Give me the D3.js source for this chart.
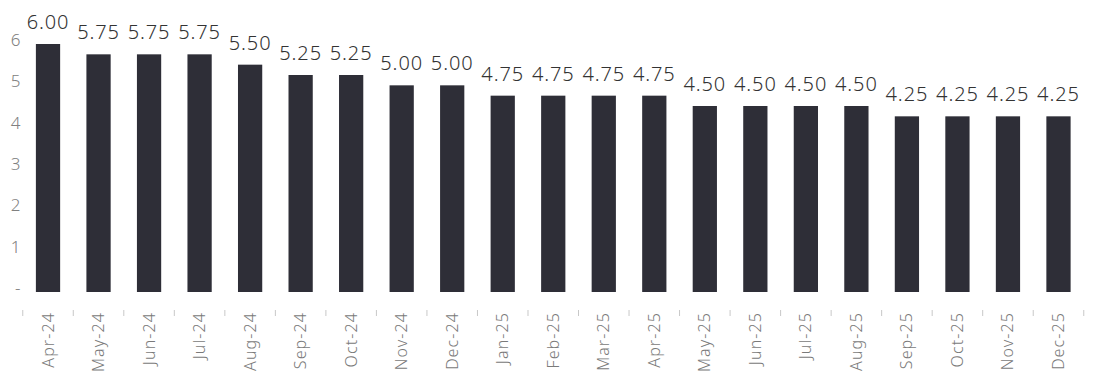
<!DOCTYPE html>
<html>
<head>
<meta charset="utf-8">
<script src="https://cdn.jsdelivr.net/npm/d3@7"></script>
<style>
  html, body { margin: 0; padding: 0; background: #fff; }
  svg { display: block; }
</style>
</head>
<body>
<svg id="chart" width="1098" height="374"></svg>
<script>
// Monthly policy rate (%)
const months = ["Apr-24","May-24","Jun-24","Jul-24","Aug-24","Sep-24","Oct-24","Nov-24","Dec-24",
                "Jan-25","Feb-25","Mar-25","Apr-25","May-25","Jun-25","Jul-25","Aug-25",
                "Sep-25","Oct-25","Nov-25","Dec-25"];
const rates = [6.00,5.75,5.75,5.75,5.50,5.25,5.25,5.00,5.00,
               4.75,4.75,4.75,4.75,4.50,4.50,4.50,4.50,
               4.25,4.25,4.25,4.25];
const yTicks = [0,1,2,3,4,5,6];

const data = months.map((m, i) => ({ month: m, rate: rates[i] }));

const svg = d3.select("#chart");
const fontFamily = "'Noto Sans', 'Open Sans', sans-serif";

const x = d3.scaleBand()
  .domain(months)
  .range([22.75, 1083.75])
  .paddingInner(0.52)
  .paddingOuter(0.26);

const y = d3.scaleLinear().domain([0, 6]).range([292, 44]);

// y-axis labels (no line, no tick marks)
const yAxis = d3.axisLeft(y)
  .tickValues(yTicks)
  .tickSize(0)
  .tickPadding(0)
  .tickFormat(d => d === 0 ? "-" : d3.format("d")(d));

const gy = svg.append("g").attr("transform", "translate(20.5,-4)").call(yAxis);
gy.select(".domain").remove();
gy.selectAll("text")
  .attr("fill", "#808080")
  .style("font-family", fontFamily)
  .style("font-weight", 300)
  .style("font-size", "17px");

// bars
svg.append("g")
  .selectAll("rect")
  .data(data)
  .join("rect")
  .attr("x", d => x(d.month))
  .attr("width", x.bandwidth())
  .attr("y", d => y(d.rate))
  .attr("height", d => y(0) - y(d.rate))
  .attr("fill", "#2e2e37");

// value labels
svg.append("g")
  .selectAll("text")
  .data(data)
  .join("text")
  .attr("x", d => x(d.month) + x.bandwidth() / 2)
  .attr("y", d => y(d.rate) - 15)
  .attr("text-anchor", "middle")
  .attr("fill", "#333333")
  .style("font-family", fontFamily)
  .style("font-weight", 300)
  .style("font-size", "20px")
  .style("letter-spacing", "0.9px")
  .text(d => d3.format(".2f")(d.rate));

// x-axis: small separators between categories, rotated month labels
const gx = svg.append("g");
const bounds = months.map(m => x(m) - x.step() * x.paddingInner() / 2)
  .concat([x(months[months.length - 1]) + x.bandwidth() + x.step() * x.paddingInner() / 2]);

gx.selectAll("line")
  .data(bounds)
  .join("line")
  .attr("x1", d => d).attr("x2", d => d)
  .attr("y1", 310).attr("y2", 316)
  .attr("stroke", "#c8c8c8")
  .attr("stroke-width", 1);

gx.selectAll("text")
  .data(months)
  .join("text")
  .attr("transform", m => `translate(${x(m) + x.bandwidth() / 2 + 5.5},312) rotate(-90)`)
  .attr("text-anchor", "end")
  .attr("fill", "#7a7a7a")
  .style("font-family", fontFamily)
  .style("font-weight", 300)
  .style("font-size", "16px")
  .style("letter-spacing", "1.1px")
  .text(m => m);
</script>
</body>
</html>
